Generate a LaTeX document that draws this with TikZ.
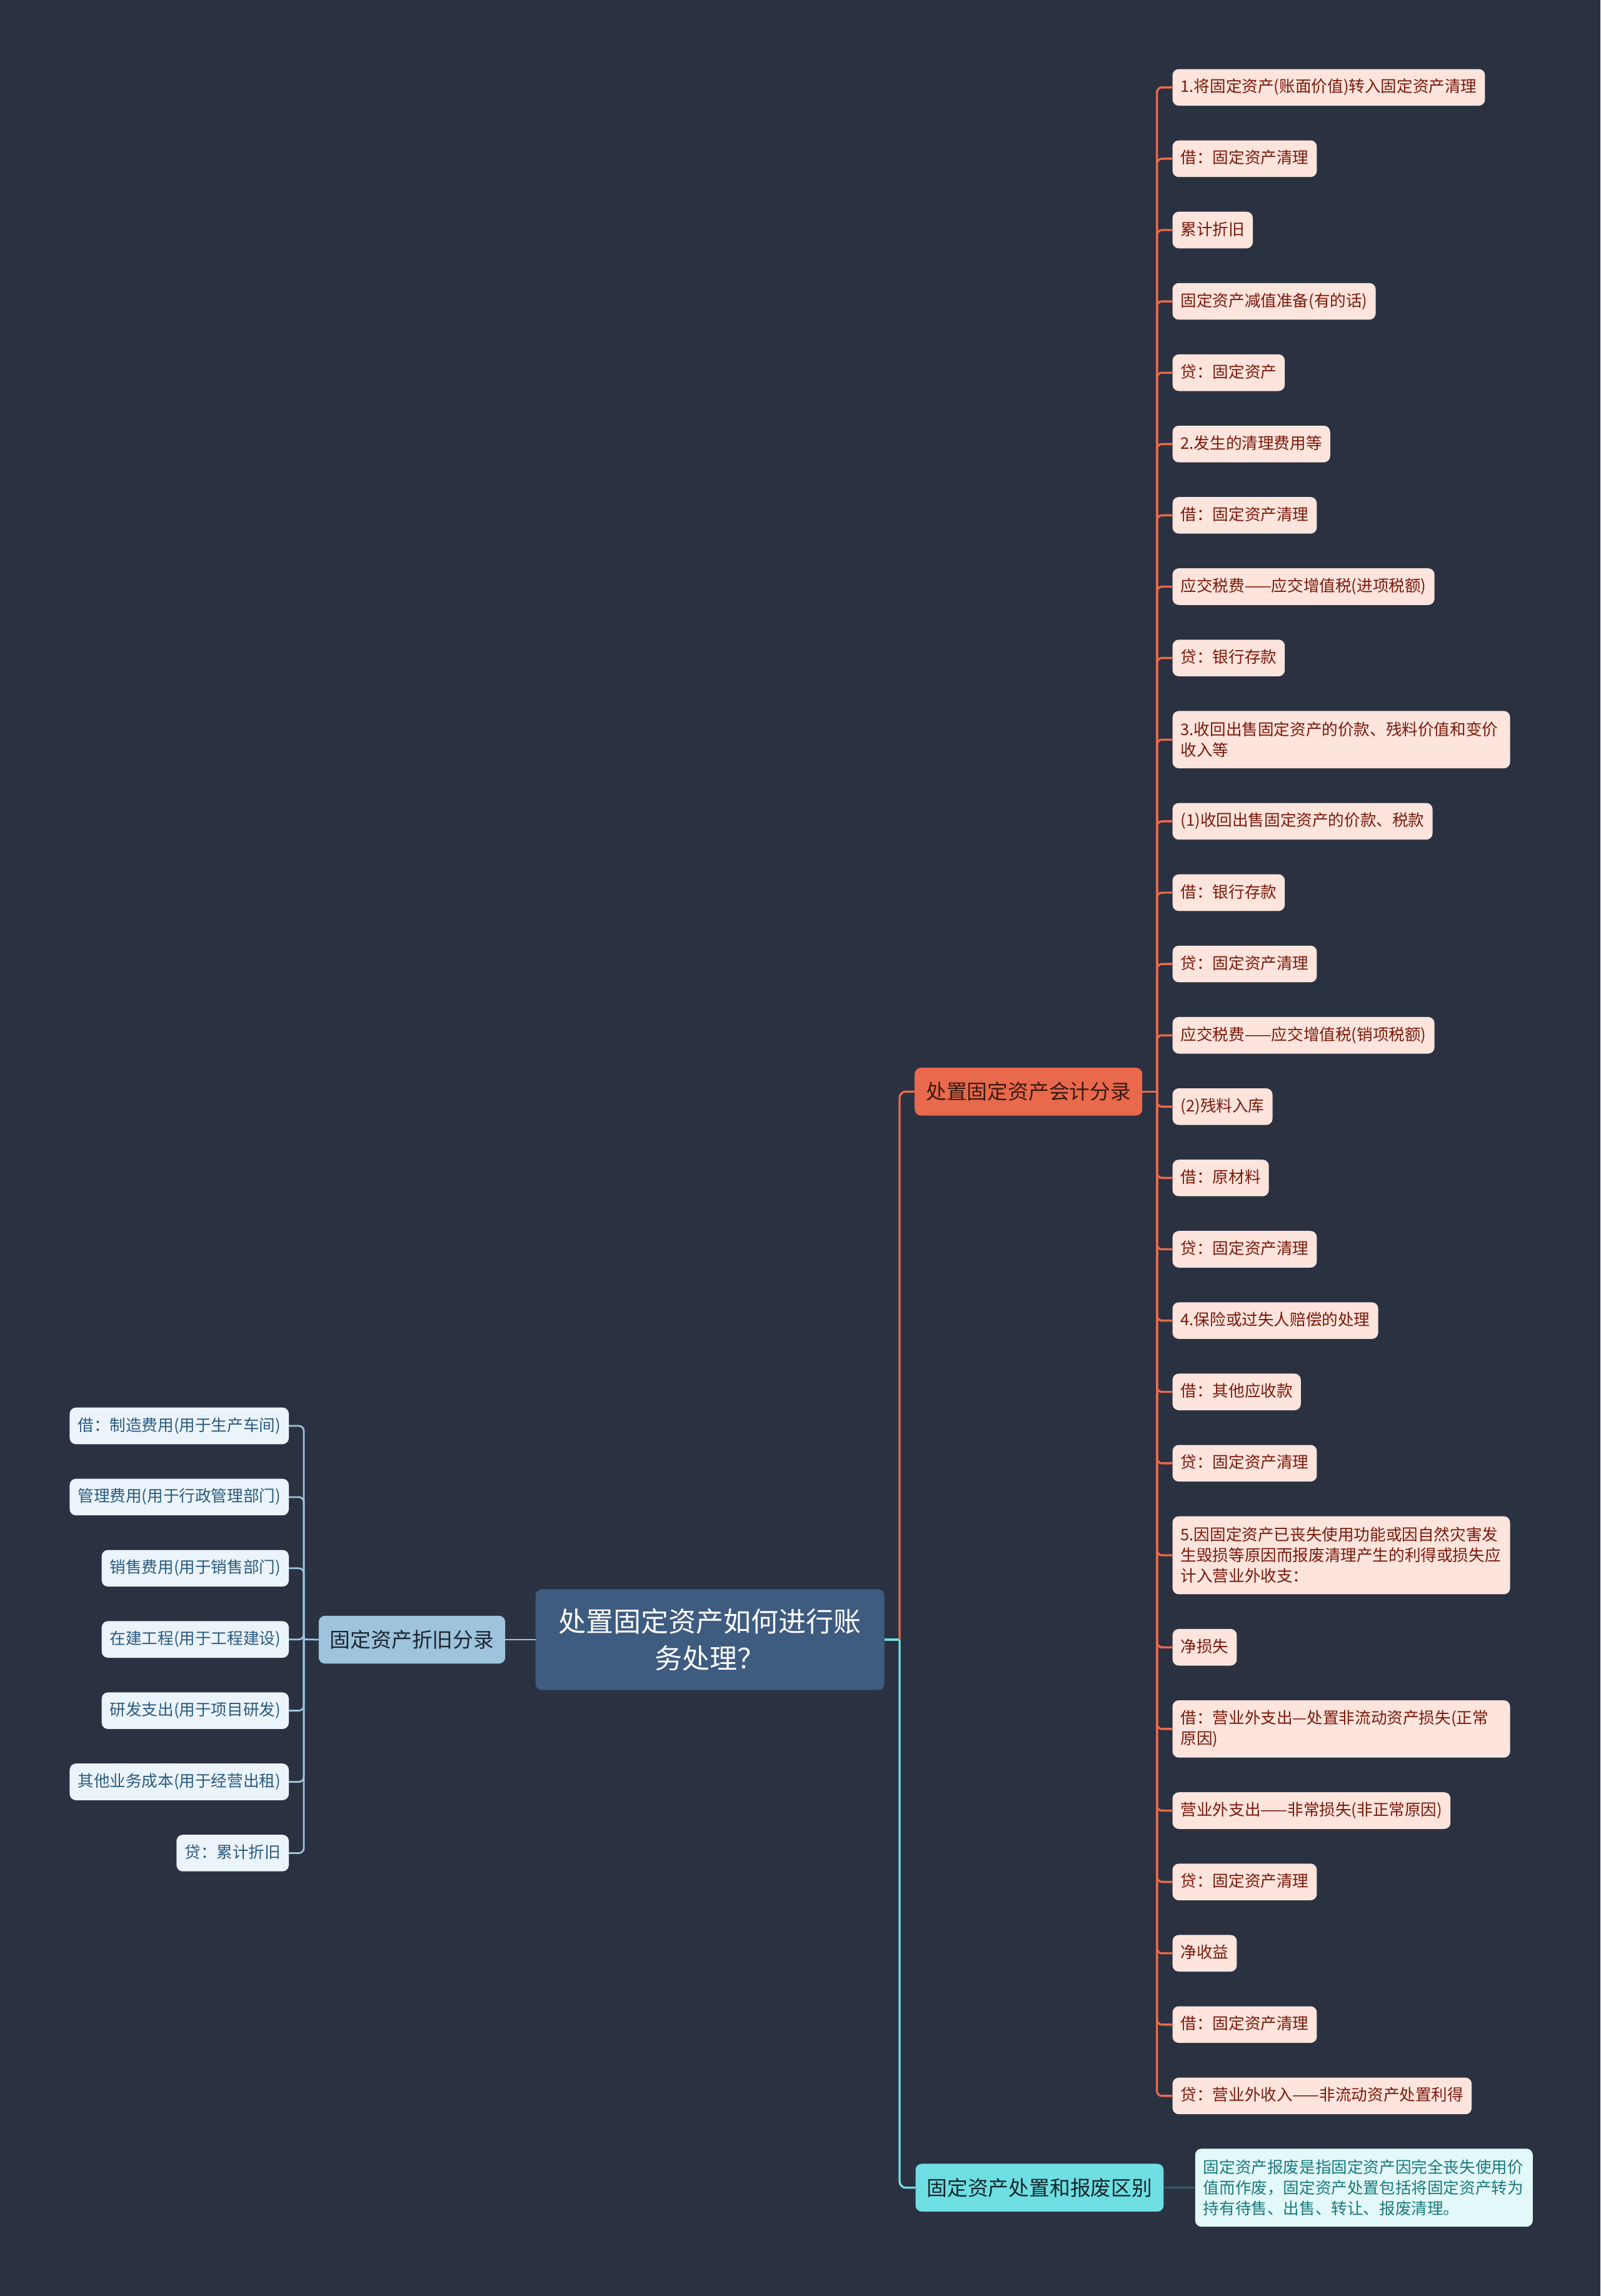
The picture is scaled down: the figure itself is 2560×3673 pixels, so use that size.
\documentclass[tikz,border=0pt]{standalone}
\usepackage{fontspec}
\usepackage{xcolor}
\usepackage{tikz}
\usetikzlibrary{positioning}
\setmainfont{Noto Sans CJK SC}
\definecolor{bgdark}{HTML}{2A3242}
\definecolor{rootfill}{HTML}{3E5B80}
\definecolor{coral}{HTML}{E9694C}
\definecolor{coralsoft}{HTML}{FDE4DC}
\definecolor{coraltext}{HTML}{7A1A0C}
\definecolor{coraldark}{HTML}{3A1A12}
\definecolor{sky}{HTML}{9EC3DC}
\definecolor{skysoft}{HTML}{EBF4FA}
\definecolor{skytext}{HTML}{2C5B80}
\definecolor{skydark}{HTML}{1B2530}
\definecolor{aqua}{HTML}{6FDEE3}
\definecolor{aquasoft}{HTML}{E3F8F8}
\definecolor{aquatext}{HTML}{1A7A7E}
\definecolor{aquadark}{HTML}{12282B}
\definecolor{aqualine}{HTML}{2F5E68}
\newcommand{\leaffont}{\fontsize{12.8pt}{16.55pt}\selectfont}
\newcommand{\branchfont}{\fontsize{16.4pt}{20pt}\selectfont}
\newcommand{\rootfont}{\fontsize{22pt}{29.3pt}\selectfont}

\begin{document}
\begin{tikzpicture}[x=0.5pt,y=-0.5pt]
    \tikzstyle{rootbox}=[fill=rootfill,text=white,rounded corners=5pt,minimum width=279pt,minimum height=80.7pt,outer sep=0pt,align=center,font=\rootfont]
    \tikzstyle{lbranch}=[fill=sky,text=skydark,rounded corners=5pt,inner xsep=9pt,inner ysep=2pt,minimum height=38.25pt,outer sep=0pt,font=\branchfont]
    \tikzstyle{obranch}=[lbranch,fill=coral,text=coraldark]
    \tikzstyle{cbranch}=[lbranch,fill=aqua,text=aquadark]
    \tikzstyle{oleaf}=[fill=coralsoft,text=coraltext,rounded corners=5pt,inner xsep=6.5pt,inner ysep=2pt,minimum height=29.3pt,outer sep=0pt,text height=10.5pt,text depth=2.5pt,align=left,font=\leaffont]
    \tikzstyle{lleaf}=[oleaf,fill=skysoft,text=skytext]
    \tikzstyle{twoline}=[text height=,text depth=,text width=257pt,minimum height=45.85pt]
    \tikzstyle{threeline}=[text height=,text depth=,text width=257pt,minimum height=62.4pt]
    \tikzstyle{cleaf}=[oleaf,threeline,fill=aquasoft,text=aquatext]
    \tikzstyle{oline}=[draw=coral,line width=1.7pt,rounded corners=4pt]
    \tikzstyle{lline}=[draw=sky,line width=1.4pt,rounded corners=4pt]
    \fill[bgdark] (0,0) rectangle (2560,3673);
    \useasboundingbox (0,0) rectangle (2560,3673);
    % centre and branches
    \node[rootbox] (root) at (1135.7,2623) {处置固定资产如何进行账\\务处理？};
    \node[lbranch,left=24.25pt of root] (depr) {固定资产折旧分录};
    \node[obranch,anchor=west] (acct) at (1463.2,1746.3) {处置固定资产会计分录};
    \node[cbranch,anchor=west] (diff) at (1464.5,3499.7) {固定资产处置和报废区别};
    \node[cleaf,right=25.25pt of diff] (note) {固定资产报废是指固定资产因完全丧失使用价\\值而作废，固定资产处置包括将固定资产转为\\持有待售、出售、转让、报废清理。};
    % depreciation entries
    \node[lleaf,anchor=east] (l1) at (462,2281) {借：制造费用(用于生产车间)};
    \node[lleaf,below left=27.65pt and 0pt of l1.south east] (l2) {管理费用(用于行政管理部门)};
    \node[lleaf,below left=27.65pt and 0pt of l2.south east] (l3) {销售费用(用于销售部门)};
    \node[lleaf,below left=27.65pt and 0pt of l3.south east] (l4) {在建工程(用于工程建设)};
    \node[lleaf,below left=27.65pt and 0pt of l4.south east] (l5) {研发支出(用于项目研发)};
    \node[lleaf,below left=27.65pt and 0pt of l5.south east] (l6) {其他业务成本(用于经营出租)};
    \node[lleaf,below left=27.65pt and 0pt of l6.south east] (l7) {贷：累计折旧};
    % disposal entries
    \node[oleaf,anchor=north west] (r1) at (1875.6,110.5) {1.将固定资产(账面价值)转入固定资产清理};
    \node[oleaf,below right=27.75pt and 0pt of r1.south west] (r2) {借：固定资产清理};
    \node[oleaf,below right=27.75pt and 0pt of r2.south west] (r3) {累计折旧};
    \node[oleaf,below right=27.75pt and 0pt of r3.south west] (r4) {固定资产减值准备(有的话)};
    \node[oleaf,below right=27.75pt and 0pt of r4.south west] (r5) {贷：固定资产};
    \node[oleaf,below right=27.75pt and 0pt of r5.south west] (r6) {2.发生的清理费用等};
    \node[oleaf,below right=27.75pt and 0pt of r6.south west] (r7) {借：固定资产清理};
    \node[oleaf,below right=27.75pt and 0pt of r7.south west] (r8) {应交税费——应交增值税(进项税额)};
    \node[oleaf,below right=27.75pt and 0pt of r8.south west] (r9) {贷：银行存款};
    \node[oleaf,twoline,below right=27.75pt and 0pt of r9.south west] (r10) {3.收回出售固定资产的价款、残料价值和变价\\收入等};
    \node[oleaf,below right=27.75pt and 0pt of r10.south west] (r11) {(1)收回出售固定资产的价款、税款};
    \node[oleaf,below right=27.75pt and 0pt of r11.south west] (r12) {借：银行存款};
    \node[oleaf,below right=27.75pt and 0pt of r12.south west] (r13) {贷：固定资产清理};
    \node[oleaf,below right=27.75pt and 0pt of r13.south west] (r14) {应交税费——应交增值税(销项税额)};
    \node[oleaf,below right=27.75pt and 0pt of r14.south west] (r15) {(2)残料入库};
    \node[oleaf,below right=27.75pt and 0pt of r15.south west] (r16) {借：原材料};
    \node[oleaf,below right=27.75pt and 0pt of r16.south west] (r17) {贷：固定资产清理};
    \node[oleaf,below right=27.75pt and 0pt of r17.south west] (r18) {4.保险或过失人赔偿的处理};
    \node[oleaf,below right=27.75pt and 0pt of r18.south west] (r19) {借：其他应收款};
    \node[oleaf,below right=27.75pt and 0pt of r19.south west] (r20) {贷：固定资产清理};
    \node[oleaf,threeline,below right=27.75pt and 0pt of r20.south west] (r21) {5.因固定资产已丧失使用功能或因自然灾害发\\生毁损等原因而报废清理产生的利得或损失应\\计入营业外收支：};
    \node[oleaf,below right=27.75pt and 0pt of r21.south west] (r22) {净损失};
    \node[oleaf,twoline,below right=27.75pt and 0pt of r22.south west] (r23) {借：营业外支出—处置非流动资产损失(正常\\原因)};
    \node[oleaf,below right=27.75pt and 0pt of r23.south west] (r24) {营业外支出——非常损失(非正常原因)};
    \node[oleaf,below right=27.75pt and 0pt of r24.south west] (r25) {贷：固定资产清理};
    \node[oleaf,below right=27.75pt and 0pt of r25.south west] (r26) {净收益};
    \node[oleaf,below right=27.75pt and 0pt of r26.south west] (r27) {借：固定资产清理};
    \node[oleaf,below right=27.75pt and 0pt of r27.south west] (r28) {贷：营业外收入——非流动资产处置利得};
    % connectors
    \coordinate (hub) at (1439,2623);
    \coordinate (lhub) at (486,2622.5);
    \coordinate (ohub) at (1850.7,1746.3);
    \draw[lline] (root.west) -- (depr.east);
    \draw[draw=aqua,line width=1.7pt] (root.east) -- (hub);
    \draw[draw=aqua,line width=1.7pt,rounded corners=5pt] (hub) |- (diff.west);
    \draw[oline,rounded corners=5pt] (hub) |- (acct.west);
    \draw[draw=aqualine,line width=1.7pt] (diff.east) -- (note.west);
    \draw[lline] (depr.west) -- (lhub);
    \draw[lline] (lhub) |- (l1.east);
    \draw[lline] (lhub) |- (l2.east);
    \draw[lline] (lhub) |- (l3.east);
    \draw[lline] (lhub) |- (l4.east);
    \draw[lline] (lhub) |- (l5.east);
    \draw[lline] (lhub) |- (l6.east);
    \draw[lline] (lhub) |- (l7.east);
    \draw[oline] (acct.east) -- (ohub);
    \draw[oline] (ohub) |- (r1.west);
    \draw[oline] (ohub) |- (r2.west);
    \draw[oline] (ohub) |- (r3.west);
    \draw[oline] (ohub) |- (r4.west);
    \draw[oline] (ohub) |- (r5.west);
    \draw[oline] (ohub) |- (r6.west);
    \draw[oline] (ohub) |- (r7.west);
    \draw[oline] (ohub) |- (r8.west);
    \draw[oline] (ohub) |- (r9.west);
    \draw[oline] (ohub) |- (r10.west);
    \draw[oline] (ohub) |- (r11.west);
    \draw[oline] (ohub) |- (r12.west);
    \draw[oline] (ohub) |- (r13.west);
    \draw[oline] (ohub) |- (r14.west);
    \draw[oline] (ohub) |- (r15.west);
    \draw[oline] (ohub) |- (r16.west);
    \draw[oline] (ohub) |- (r17.west);
    \draw[oline] (ohub) |- (r18.west);
    \draw[oline] (ohub) |- (r19.west);
    \draw[oline] (ohub) |- (r20.west);
    \draw[oline] (ohub) |- (r21.west);
    \draw[oline] (ohub) |- (r22.west);
    \draw[oline] (ohub) |- (r23.west);
    \draw[oline] (ohub) |- (r24.west);
    \draw[oline] (ohub) |- (r25.west);
    \draw[oline] (ohub) |- (r26.west);
    \draw[oline] (ohub) |- (r27.west);
    \draw[oline] (ohub) |- (r28.west);
  \end{tikzpicture}
\end{document}
